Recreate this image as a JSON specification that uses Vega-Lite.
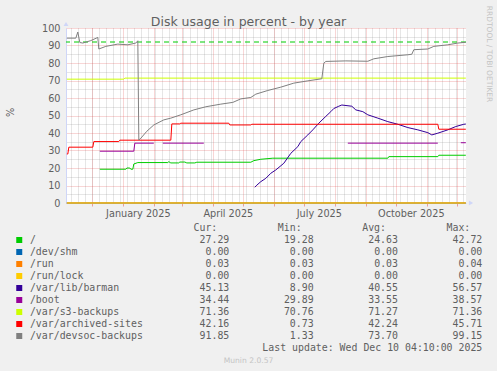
{
  "$schema": "https://vega.github.io/schema/vega-lite/v6.json",
  "width": 400,
  "height": 175,
  "autosize": {"type": "none"},
  "padding": {"left": 66, "top": 28, "right": 31, "bottom": 168},
  "background": "#F0F0F0",
  "config": {
    "view": {"fill": "#FFFFFF", "stroke": null},
    "axis": {"labelFont": "DejaVu Sans", "titleFont": "DejaVu Sans", "titleFontWeight": "normal"}
  },
  "datasets": {
    "series": [
      {"date": "2024-12-09", "series": "/", "value": 19.3},
      {"date": "2025-01-04", "series": "/", "value": 19.3},
      {"date": "2025-01-05", "series": "/", "value": 20.0},
      {"date": "2025-01-08", "series": "/", "value": 20.0},
      {"date": "2025-01-09", "series": "/", "value": 19.3},
      {"date": "2025-01-11", "series": "/", "value": 19.3},
      {"date": "2025-01-12", "series": "/", "value": 22.3},
      {"date": "2025-01-16", "series": "/", "value": 23.1},
      {"date": "2025-02-15", "series": "/", "value": 23.1},
      {"date": "2025-02-16", "series": "/", "value": 23.6},
      {"date": "2025-02-18", "series": "/", "value": 22.9},
      {"date": "2025-02-26", "series": "/", "value": 22.9},
      {"date": "2025-02-27", "series": "/", "value": 23.4},
      {"date": "2025-03-04", "series": "/", "value": 23.4},
      {"date": "2025-03-06", "series": "/", "value": 22.9},
      {"date": "2025-03-14", "series": "/", "value": 22.9},
      {"date": "2025-03-16", "series": "/", "value": 23.3},
      {"date": "2025-05-09", "series": "/", "value": 23.3},
      {"date": "2025-05-12", "series": "/", "value": 24.2},
      {"date": "2025-05-19", "series": "/", "value": 25.0},
      {"date": "2025-05-31", "series": "/", "value": 25.6},
      {"date": "2025-09-23", "series": "/", "value": 25.6},
      {"date": "2025-09-24", "series": "/", "value": 26.5},
      {"date": "2025-11-12", "series": "/", "value": 26.5},
      {"date": "2025-11-13", "series": "/", "value": 27.29},
      {"date": "2025-12-10", "series": "/", "value": 27.29},
      {"date": "2024-11-06", "series": "/dev/shm", "value": 0},
      {"date": "2025-12-10", "series": "/dev/shm", "value": 0},
      {"date": "2024-11-06", "series": "/run", "value": 0.03},
      {"date": "2025-12-10", "series": "/run", "value": 0.03},
      {"date": "2024-11-06", "series": "/run/lock", "value": 0},
      {"date": "2025-12-10", "series": "/run/lock", "value": 0},
      {"date": "2025-05-13", "series": "/var/lib/barman", "value": 9.0},
      {"date": "2025-05-15", "series": "/var/lib/barman", "value": 10.2},
      {"date": "2025-05-19", "series": "/var/lib/barman", "value": 12.2},
      {"date": "2025-05-24", "series": "/var/lib/barman", "value": 14.1},
      {"date": "2025-05-29", "series": "/var/lib/barman", "value": 17.0},
      {"date": "2025-06-03", "series": "/var/lib/barman", "value": 18.9},
      {"date": "2025-06-11", "series": "/var/lib/barman", "value": 22.7},
      {"date": "2025-06-18", "series": "/var/lib/barman", "value": 28.4},
      {"date": "2025-06-25", "series": "/var/lib/barman", "value": 32.2},
      {"date": "2025-06-28", "series": "/var/lib/barman", "value": 35.1},
      {"date": "2025-07-05", "series": "/var/lib/barman", "value": 38.9},
      {"date": "2025-07-10", "series": "/var/lib/barman", "value": 41.8},
      {"date": "2025-07-16", "series": "/var/lib/barman", "value": 45.6},
      {"date": "2025-07-23", "series": "/var/lib/barman", "value": 49.5},
      {"date": "2025-07-28", "series": "/var/lib/barman", "value": 52.2},
      {"date": "2025-07-31", "series": "/var/lib/barman", "value": 54.0},
      {"date": "2025-08-05", "series": "/var/lib/barman", "value": 55.3},
      {"date": "2025-08-08", "series": "/var/lib/barman", "value": 56.0},
      {"date": "2025-08-18", "series": "/var/lib/barman", "value": 55.3},
      {"date": "2025-08-22", "series": "/var/lib/barman", "value": 53.2},
      {"date": "2025-08-29", "series": "/var/lib/barman", "value": 52.2},
      {"date": "2025-09-03", "series": "/var/lib/barman", "value": 50.4},
      {"date": "2025-09-13", "series": "/var/lib/barman", "value": 48.5},
      {"date": "2025-09-23", "series": "/var/lib/barman", "value": 46.5},
      {"date": "2025-10-03", "series": "/var/lib/barman", "value": 45.0},
      {"date": "2025-10-13", "series": "/var/lib/barman", "value": 43.1},
      {"date": "2025-10-23", "series": "/var/lib/barman", "value": 41.8},
      {"date": "2025-11-02", "series": "/var/lib/barman", "value": 40.2},
      {"date": "2025-11-06", "series": "/var/lib/barman", "value": 38.9},
      {"date": "2025-11-12", "series": "/var/lib/barman", "value": 39.9},
      {"date": "2025-11-22", "series": "/var/lib/barman", "value": 41.8},
      {"date": "2025-11-30", "series": "/var/lib/barman", "value": 43.7},
      {"date": "2025-12-08", "series": "/var/lib/barman", "value": 45.0},
      {"date": "2025-12-10", "series": "/var/lib/barman", "value": 45.13},
      {"date": "2024-12-09", "series": "/boot", "value": 29.6},
      {"date": "2025-01-12", "series": "/boot", "value": 29.6},
      {"date": "2025-01-13", "series": "/boot", "value": 34.2},
      {"date": "2025-02-01", "series": "/boot", "value": 34.2},
      {"date": "2025-02-05", "series": "/boot", "value": null},
      {"date": "2025-02-10", "series": "/boot", "value": 34.2},
      {"date": "2025-03-23", "series": "/boot", "value": 34.2},
      {"date": "2025-05-01", "series": "/boot", "value": null},
      {"date": "2025-08-14", "series": "/boot", "value": 34.2},
      {"date": "2025-11-12", "series": "/boot", "value": 34.2},
      {"date": "2025-11-20", "series": "/boot", "value": null},
      {"date": "2025-12-05", "series": "/boot", "value": 34.44},
      {"date": "2025-12-10", "series": "/boot", "value": 34.44},
      {"date": "2024-11-06", "series": "/var/s3-backups", "value": 70.76},
      {"date": "2025-01-02", "series": "/var/s3-backups", "value": 70.76},
      {"date": "2025-01-03", "series": "/var/s3-backups", "value": 71.36},
      {"date": "2025-12-10", "series": "/var/s3-backups", "value": 71.36},
      {"date": "2024-11-06", "series": "/var/archived-sites", "value": 28.0},
      {"date": "2024-11-07", "series": "/var/archived-sites", "value": 28.0},
      {"date": "2024-11-08", "series": "/var/archived-sites", "value": 31.9},
      {"date": "2024-12-02", "series": "/var/archived-sites", "value": 31.9},
      {"date": "2024-12-03", "series": "/var/archived-sites", "value": 35.1},
      {"date": "2024-12-28", "series": "/var/archived-sites", "value": 35.1},
      {"date": "2024-12-29", "series": "/var/archived-sites", "value": 35.9},
      {"date": "2025-02-18", "series": "/var/archived-sites", "value": 35.9},
      {"date": "2025-02-19", "series": "/var/archived-sites", "value": 45.2},
      {"date": "2025-02-27", "series": "/var/archived-sites", "value": 45.2},
      {"date": "2025-02-28", "series": "/var/archived-sites", "value": 45.6},
      {"date": "2025-04-17", "series": "/var/archived-sites", "value": 45.6},
      {"date": "2025-04-18", "series": "/var/archived-sites", "value": 44.6},
      {"date": "2025-05-09", "series": "/var/archived-sites", "value": 44.6},
      {"date": "2025-05-10", "series": "/var/archived-sites", "value": 45.0},
      {"date": "2025-11-12", "series": "/var/archived-sites", "value": 45.0},
      {"date": "2025-11-13", "series": "/var/archived-sites", "value": 42.16},
      {"date": "2025-12-10", "series": "/var/archived-sites", "value": 42.16},
      {"date": "2024-11-06", "series": "/var/devsoc-backups", "value": 94.2},
      {"date": "2024-11-15", "series": "/var/devsoc-backups", "value": 94.2},
      {"date": "2024-11-17", "series": "/var/devsoc-backups", "value": 97.7},
      {"date": "2024-11-19", "series": "/var/devsoc-backups", "value": 91.7},
      {"date": "2024-11-22", "series": "/var/devsoc-backups", "value": 91.4},
      {"date": "2024-11-30", "series": "/var/devsoc-backups", "value": 92.8},
      {"date": "2024-12-07", "series": "/var/devsoc-backups", "value": 94.6},
      {"date": "2024-12-08", "series": "/var/devsoc-backups", "value": 88.0},
      {"date": "2024-12-15", "series": "/var/devsoc-backups", "value": 89.5},
      {"date": "2024-12-27", "series": "/var/devsoc-backups", "value": 90.8},
      {"date": "2025-01-06", "series": "/var/devsoc-backups", "value": 90.4},
      {"date": "2025-01-14", "series": "/var/devsoc-backups", "value": 91.4},
      {"date": "2025-01-16", "series": "/var/devsoc-backups", "value": 92.7},
      {"date": "2025-01-17", "series": "/var/devsoc-backups", "value": 36.0},
      {"date": "2025-01-19", "series": "/var/devsoc-backups", "value": 37.0},
      {"date": "2025-01-25", "series": "/var/devsoc-backups", "value": 41.0},
      {"date": "2025-02-01", "series": "/var/devsoc-backups", "value": 44.6},
      {"date": "2025-02-11", "series": "/var/devsoc-backups", "value": 47.5},
      {"date": "2025-02-18", "series": "/var/devsoc-backups", "value": 48.5},
      {"date": "2025-02-28", "series": "/var/devsoc-backups", "value": 50.4},
      {"date": "2025-03-13", "series": "/var/devsoc-backups", "value": 53.2},
      {"date": "2025-03-25", "series": "/var/devsoc-backups", "value": 55.0},
      {"date": "2025-04-09", "series": "/var/devsoc-backups", "value": 56.5},
      {"date": "2025-04-21", "series": "/var/devsoc-backups", "value": 57.5},
      {"date": "2025-04-29", "series": "/var/devsoc-backups", "value": 59.5},
      {"date": "2025-05-09", "series": "/var/devsoc-backups", "value": 60.3},
      {"date": "2025-05-14", "series": "/var/devsoc-backups", "value": 62.2},
      {"date": "2025-05-26", "series": "/var/devsoc-backups", "value": 64.3},
      {"date": "2025-06-08", "series": "/var/devsoc-backups", "value": 66.2},
      {"date": "2025-06-21", "series": "/var/devsoc-backups", "value": 68.5},
      {"date": "2025-07-05", "series": "/var/devsoc-backups", "value": 69.8},
      {"date": "2025-07-19", "series": "/var/devsoc-backups", "value": 71.0},
      {"date": "2025-07-21", "series": "/var/devsoc-backups", "value": 79.9},
      {"date": "2025-07-23", "series": "/var/devsoc-backups", "value": 80.9},
      {"date": "2025-08-12", "series": "/var/devsoc-backups", "value": 81.2},
      {"date": "2025-09-03", "series": "/var/devsoc-backups", "value": 81.0},
      {"date": "2025-09-09", "series": "/var/devsoc-backups", "value": 82.4},
      {"date": "2025-09-23", "series": "/var/devsoc-backups", "value": 83.7},
      {"date": "2025-10-13", "series": "/var/devsoc-backups", "value": 84.7},
      {"date": "2025-10-17", "series": "/var/devsoc-backups", "value": 85.0},
      {"date": "2025-10-19", "series": "/var/devsoc-backups", "value": 87.6},
      {"date": "2025-11-02", "series": "/var/devsoc-backups", "value": 88.0},
      {"date": "2025-11-08", "series": "/var/devsoc-backups", "value": 89.5},
      {"date": "2025-11-22", "series": "/var/devsoc-backups", "value": 90.4},
      {"date": "2025-12-02", "series": "/var/devsoc-backups", "value": 91.4},
      {"date": "2025-12-10", "series": "/var/devsoc-backups", "value": 91.85}
    ],
    "table": [
      {"name": "/", "cur": 27.29, "min": 19.28, "avg": 24.63, "max": 42.72},
      {"name": "/dev/shm", "cur": 0, "min": 0, "avg": 0, "max": 0},
      {"name": "/run", "cur": 0.03, "min": 0.03, "avg": 0.03, "max": 0.04},
      {"name": "/run/lock", "cur": 0, "min": 0, "avg": 0, "max": 0},
      {"name": "/var/lib/barman", "cur": 45.13, "min": 8.90, "avg": 40.55, "max": 56.57},
      {"name": "/boot", "cur": 34.44, "min": 29.89, "avg": 33.55, "max": 38.57},
      {"name": "/var/s3-backups", "cur": 71.36, "min": 70.76, "avg": 71.27, "max": 71.36},
      {"name": "/var/archived-sites", "cur": 42.16, "min": 0.73, "avg": 42.24, "max": 45.71},
      {"name": "/var/devsoc-backups", "cur": 91.85, "min": 1.33, "avg": 73.70, "max": 99.15}
    ]
  },
  "resolve": {"scale": {"x": "independent", "y": "independent"}},
  "layer": [
    {
      "data": {"values": [{}]},
      "mark": {"type": "point", "opacity": 0},
      "encoding": {
        "x": {"datum": {"year": 2024, "month": 11, "date": 5, "hours": 4, "minutes": 10, "utc": true}, "type": "temporal",
          "scale": {"type": "utc", "nice": false, "domain": [{"year": 2024, "month": 11, "date": 5, "hours": 4, "minutes": 10, "utc": true}, {"year": 2025, "month": 12, "date": 10, "hours": 4, "minutes": 10, "utc": true}]},
          "axis": {"orient": "bottom", "tickCount": {"interval": "week", "step": 1}, "grid": true, "gridColor": "#909090", "gridOpacity": 0.45, "gridDash": [1, 1], "labels": false, "ticks": false, "domain": false, "title": null}},
        "y": {"datum": 0, "type": "quantitative", "scale": {"domain": [0, 100], "nice": false, "zero": false},
          "axis": {"orient": "left", "values": [5, 15, 25, 35, 45, 55, 65, 75, 85, 95], "grid": true, "gridColor": "#909090", "gridOpacity": 0.45, "gridDash": [1, 1], "labels": false, "ticks": false, "domain": false, "title": null}}
      }
    },
    {
      "data": {"values": [{}]},
      "mark": {"type": "point", "opacity": 0},
      "encoding": {
        "x": {"datum": {"year": 2024, "month": 11, "date": 5, "hours": 4, "minutes": 10, "utc": true}, "type": "temporal",
          "scale": {"type": "utc", "nice": false, "domain": [{"year": 2024, "month": 11, "date": 5, "hours": 4, "minutes": 10, "utc": true}, {"year": 2025, "month": 12, "date": 10, "hours": 4, "minutes": 10, "utc": true}]},
          "axis": {"orient": "bottom", "tickCount": {"interval": "month", "step": 1}, "grid": true, "gridColor": "#E04848", "gridOpacity": 0.45, "gridDash": [1, 1], "labels": false, "ticks": true, "tickColor": "#E04848", "tickOpacity": 0.5, "tickSize": 3, "domain": true, "domainColor": "#CFD6F8", "title": null}},
        "y": {"datum": 0, "type": "quantitative", "scale": {"domain": [0, 100], "nice": false, "zero": false},
          "axis": {"orient": "left", "values": [0, 10, 20, 30, 40, 50, 60, 70, 80, 90, 100], "grid": true, "gridColor": "#E04848", "gridOpacity": 0.45, "gridDash": [1, 1], "labels": true, "labelColor": "#606060", "labelFontSize": 9.7, "labelPadding": 6, "ticks": false, "domain": true, "domainColor": "#CFD6F8",
            "title": "%", "titleColor": "#606060", "titleFontSize": 9.7, "titleX": -56, "titleY": 84, "titleAngle": -90, "titleAlign": "center", "titleBaseline": "middle"}}
      }
    },
    {
      "data": {"values": [{}]},
      "mark": {"type": "point", "opacity": 0},
      "encoding": {
        "x": {"datum": {"year": 2024, "month": 11, "date": 5, "hours": 4, "minutes": 10, "utc": true}, "type": "temporal",
          "scale": {"type": "utc", "nice": false, "domain": [{"year": 2024, "month": 11, "date": 5, "hours": 4, "minutes": 10, "utc": true}, {"year": 2025, "month": 12, "date": 10, "hours": 4, "minutes": 10, "utc": true}]},
          "axis": {"orient": "bottom", "values": [{"year": 2025, "month": 1, "date": 16, "utc": true}, {"year": 2025, "month": 4, "date": 16, "utc": true}, {"year": 2025, "month": 7, "date": 16, "utc": true}, {"year": 2025, "month": 10, "date": 16, "utc": true}],
            "labelExpr": "utcFormat(datum.value, '%B %Y')", "grid": false, "ticks": false, "domain": false, "labelColor": "#606060", "labelFontSize": 9.7, "labelPadding": 5, "labelOverlap": false,
            "title": "Munin 2.0.57", "titleX": 182, "titleY": 157, "titleAlign": "center", "titleBaseline": "middle", "titleFontSize": 7.6, "titleColor": "#C4C4C4"}},
        "y": {"datum": 0, "type": "quantitative", "scale": {"domain": [0, 100], "nice": false, "zero": false},
          "axis": {"orient": "right", "labels": false, "ticks": false, "domain": false, "grid": false,
            "title": "RRDTOOL / TOBI OETIKER", "titleAngle": 90, "titleX": 22, "titleY": 25.5, "titleAlign": "center", "titleBaseline": "middle", "titleFontSize": 7.5, "titleColor": "#C4C4C4"}}
      }
    },
    {
      "data": {"values": [{}]},
      "mark": {"type": "point", "shape": "triangle-up", "filled": true, "color": "#CFD6F8", "opacity": 1, "size": 24, "yOffset": -4},
      "encoding": {
        "x": {"datum": {"year": 2024, "month": 11, "date": 5, "hours": 4, "minutes": 10, "utc": true}, "type": "temporal",
          "scale": {"type": "utc", "nice": false, "domain": [{"year": 2024, "month": 11, "date": 5, "hours": 4, "minutes": 10, "utc": true}, {"year": 2025, "month": 12, "date": 10, "hours": 4, "minutes": 10, "utc": true}]},
          "axis": {"orient": "top", "labels": false, "ticks": false, "domain": false, "grid": false,
            "title": "Disk usage in percent - by year", "titleX": 182, "titleY": -3, "titleAlign": "center", "titleBaseline": "alphabetic", "titleFontSize": 12.5, "titleColor": "#606060"}},
        "y": {"datum": 100, "type": "quantitative", "scale": {"domain": [0, 100], "nice": false, "zero": false}, "axis": null}
      }
    },
    {
      "data": {"values": [{}]},
      "mark": {"type": "point", "shape": "triangle-right", "filled": true, "color": "#CFD6F8", "opacity": 1, "size": 24, "xOffset": 5},
      "encoding": {
        "x": {"datum": {"year": 2025, "month": 12, "date": 10, "hours": 4, "minutes": 10, "utc": true}, "type": "temporal",
          "scale": {"type": "utc", "nice": false, "domain": [{"year": 2024, "month": 11, "date": 5, "hours": 4, "minutes": 10, "utc": true}, {"year": 2025, "month": 12, "date": 10, "hours": 4, "minutes": 10, "utc": true}]}, "axis": null},
        "y": {"datum": 0, "type": "quantitative", "scale": {"domain": [0, 100], "nice": false, "zero": false}, "axis": null}
      }
    },
    {
      "data": {"values": [{}]},
      "mark": {"type": "rule", "color": "#00CC00", "strokeDash": [5, 4], "strokeWidth": 1},
      "encoding": {
        "y": {"datum": 92, "type": "quantitative", "scale": {"domain": [0, 100], "nice": false, "zero": false}, "axis": null}
      }
    },
    {
      "data": {"name": "series"},
      "mark": {"type": "line", "strokeWidth": 1, "interpolate": "linear"},
      "encoding": {
        "x": {"field": "date", "type": "temporal",
          "scale": {"type": "utc", "nice": false, "domain": [{"year": 2024, "month": 11, "date": 5, "hours": 4, "minutes": 10, "utc": true}, {"year": 2025, "month": 12, "date": 10, "hours": 4, "minutes": 10, "utc": true}]}, "axis": null},
        "y": {"field": "value", "type": "quantitative", "scale": {"domain": [0, 100], "nice": false, "zero": false}, "axis": null},
        "color": {"field": "series", "type": "nominal",
          "scale": {"domain": ["/", "/dev/shm", "/run", "/run/lock", "/var/lib/barman", "/boot", "/var/s3-backups", "/var/archived-sites", "/var/devsoc-backups"],
            "range": ["#00CC00", "#0066B3", "#FF8000", "#FFCC00", "#330099", "#990099", "#CCFF00", "#FF0000", "#808080"]},
          "legend": {"orient": "none", "legendX": -51.7, "legendY": 206, "title": null, "direction": "vertical", "symbolType": "square", "symbolSize": 36, "symbolStrokeWidth": 0,
            "clipHeight": 12, "rowPadding": 0, "labelOffset": 5.7, "padding": 0, "labelFont": "DejaVu Sans Mono", "labelFontSize": 9.9, "labelColor": "#606060", "labelLimit": 300,
            "encode": {"symbols": {"update": {"fill": {"scale": "color", "field": "value"}, "opacity": {"value": 1}}}}}}
      }
    },
    {
      "data": {"name": "table"},
      "transform": [{"fold": ["cur", "min", "avg", "max"], "as": ["stat", "val"]}],
      "mark": {"type": "text", "align": "right", "baseline": "middle", "font": "DejaVu Sans Mono", "fontSize": 9.9, "color": "#606060"},
      "encoding": {
        "x": {"field": "stat", "type": "nominal", "scale": {"type": "point", "domain": ["cur", "min", "avg", "max"], "range": [163.3, 416.3], "padding": 0}, "axis": null},
        "y": {"field": "name", "type": "nominal", "scale": {"type": "point", "domain": ["header", "/", "/dev/shm", "/run", "/run/lock", "/var/lib/barman", "/boot", "/var/s3-backups", "/var/archived-sites", "/var/devsoc-backups", "last"], "range": [200, 320], "padding": 0}, "axis": null},
        "text": {"field": "val", "type": "quantitative", "format": ".2f"}
      }
    },
    {
      "data": {"values": [{"stat": "cur", "label": "Cur:"}, {"stat": "min", "label": "Min:"}, {"stat": "avg", "label": "Avg:"}, {"stat": "max", "label": "Max:"}]},
      "mark": {"type": "text", "align": "right", "baseline": "middle", "font": "DejaVu Sans Mono", "fontSize": 9.9, "color": "#606060", "dx": -12},
      "encoding": {
        "x": {"field": "stat", "type": "nominal", "scale": {"type": "point", "domain": ["cur", "min", "avg", "max"], "range": [163.3, 416.3], "padding": 0}, "axis": null},
        "y": {"datum": "header", "type": "nominal", "scale": {"type": "point", "domain": ["header", "/", "/dev/shm", "/run", "/run/lock", "/var/lib/barman", "/boot", "/var/s3-backups", "/var/archived-sites", "/var/devsoc-backups", "last"], "range": [200, 320], "padding": 0}, "axis": null},
        "text": {"field": "label", "type": "nominal"}
      }
    },
    {
      "data": {"values": [{"label": "Last update: Wed Dec 10 04:10:00 2025"}]},
      "mark": {"type": "text", "align": "right", "baseline": "middle", "font": "DejaVu Sans Mono", "fontSize": 9.9, "color": "#606060"},
      "encoding": {
        "x": {"datum": "max", "type": "nominal", "scale": {"type": "point", "domain": ["cur", "min", "avg", "max"], "range": [163.3, 416.3], "padding": 0}, "axis": null},
        "y": {"datum": "last", "type": "nominal", "scale": {"type": "point", "domain": ["header", "/", "/dev/shm", "/run", "/run/lock", "/var/lib/barman", "/boot", "/var/s3-backups", "/var/archived-sites", "/var/devsoc-backups", "last"], "range": [200, 320], "padding": 0}, "axis": null},
        "text": {"field": "label", "type": "nominal"}
      }
    }
  ]
}
